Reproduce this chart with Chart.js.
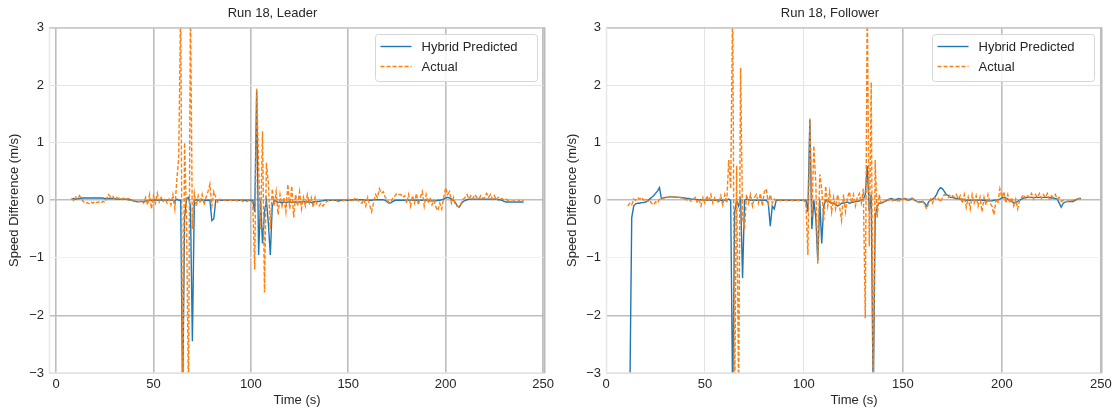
<!DOCTYPE html>
<html>
<head>
<meta charset="utf-8">
<script src="https://cdn.jsdelivr.net/npm/chart.js@4.4.0/dist/chart.umd.min.js"></script>
<style>
  body { margin: 0; background: #fff; width: 1117px; height: 412px; overflow: hidden; position: relative; }
  canvas { position: absolute; top: 0; }
  #leader { left: 0; }
  #follower { left: 558px; }
</style>
</head>
<body>
<canvas id="leader" width="558" height="412"></canvas>
<canvas id="follower" width="559" height="412"></canvas>
<script>
// --- Data (1 s samples) ---
const seriesNames = ['Hybrid Predicted', 'Actual'];
const xTicks = [0, 50, 100, 150, 200, 250];
const yTicks = [-3, -2, -1, 0, 1, 2, 3];

// Leader: t = 8 .. 240
const leaderStart = 8;
const leaderPredicted = [
  0.02, 0.03,
  0.02, 0.03, 0.03, 0.04, 0.04, 0.04, 0.04, 0.04, 0.04, 0.04,
  0.04, 0.04, 0.04, 0.04, 0.04, 0.03, 0.03, 0.03, 0.03, 0.03,
  0.03, 0.02, 0.02, 0.02, 0.02, 0.02, 0.02, 0.01, 0.01, 0.0,
  -0.01, -0.02, -0.02, -0.02, -0.02, -0.02, -0.01, -0.01, 0.0, 0.0,
  0.0, 0.01, 0.0, 0.0, 0.01, 0.0, 0.0, 0.0, 0.01, 0.0,
  0.0, -0.02, 0.02, 0.0, 0.0, -3.5, -0.3, 0.03, 0.05, -0.1,
  -2.45, 0.0, 0.01, 0.0, 0.0, 0.01, 0.0, 0.0, 0.0, 0.0,
  -0.35, -0.32, 0.0, 0.0, 0.0, 0.0, 0.0, 0.0, 0.0, 0.0,
  0.0, 0.0, 0.0, 0.0, 0.0, 0.0, 0.0, 0.0, 0.0, 0.0,
  0.0, 0.0, -0.2, 1.9, -0.95, 0.0, -0.75, -0.2, 0.0, -0.4,
  -0.95, -0.1, 0.0, -0.02, -0.04, -0.03, -0.05, -0.03, -0.04, -0.03,
  -0.03, -0.04, -0.03, -0.03, -0.04, -0.03, -0.03, -0.02, -0.03, -0.03,
  -0.03, -0.04, -0.03, -0.02, -0.02, -0.02, -0.01, -0.01, 0.0, 0.0,
  0.0, 0.0, 0.0, 0.0, 0.0, 0.0, 0.0, 0.0, 0.0, 0.0,
  0.0, 0.0, 0.01, 0.01, 0.01, 0.01, 0.01, 0.01, 0.01, 0.0,
  0.0, 0.0, 0.0, 0.01, 0.01, 0.01, 0.01, 0.01, 0.01, 0.0,
  -0.03, -0.05, -0.04, -0.02, 0.0, 0.0, 0.0, 0.0, 0.0, 0.0,
  0.0, 0.0, 0.0, 0.0, 0.0, 0.0, 0.0, 0.0, 0.0, 0.0,
  0.0, 0.0, -0.01, -0.01, -0.01, -0.01, 0.0, 0.0, 0.01, 0.02,
  0.04, 0.05, 0.04, 0.02, 0.0, -0.04, -0.1, -0.12, -0.06, -0.02,
  0.0, 0.01, 0.02, 0.02, 0.02, 0.02, 0.02, 0.02, 0.02, 0.02,
  0.02, 0.02, 0.02, 0.02, 0.02, 0.02, 0.02, 0.01, 0.01, 0.0,
  -0.02, -0.03, -0.03, -0.03, -0.03, -0.03, -0.03, -0.03, -0.03, -0.03,
  -0.03
];
const leaderActual = [
  0.03, 0.0,
  0.06, 0.02, 0.08, 0.03, -0.02, -0.05, -0.04, -0.06, -0.03, -0.05,
  -0.02, -0.04, -0.03, -0.05, -0.02, -0.03, 0.03, 0.1, 0.06, 0.08,
  0.02, 0.05, 0.03, 0.05, 0.02, 0.04, 0.02, 0.03, 0.02, 0.0,
  -0.02, -0.01, -0.03, -0.02, 0.0, -0.05, 0.05, -0.08, 0.1, -0.15,
  0.08, -0.05, 0.12, -0.03, 0.05, -0.02, 0.03, -0.05, 0.02, -0.08,
  0.1, -0.15, 0.35, 0.75, 3.5, -3.5, 1.0, -0.3, -3.5, 3.5,
  -0.5, 0.12, -0.1, 0.08, -0.05, 0.1, -0.08, 0.05, 0.15, 0.28,
  -0.1, 0.15, 0.05, -0.05, 0.02, 0.0, 0.01, 0.0, -0.01, 0.0,
  0.0, 0.01, 0.0, -0.01, 0.0, 0.0, -0.02, -0.01, -0.02, 0.0,
  0.0, -0.05, -1.2, 1.95, 0.6, -0.5, 1.2, -1.6, 0.65, 0.3,
  -0.5, 0.2, -0.1, 0.15, -0.25, 0.1, -0.1, 0.05, -0.2, 0.28,
  -0.15, 0.25, -0.3, 0.1, -0.1, 0.15, -0.15, 0.05, -0.1, 0.1,
  -0.05, 0.05, -0.12, 0.05, -0.08, -0.1, -0.05, -0.1, -0.05, -0.02,
  0.0, 0.02, 0.0, 0.01, -0.01, -0.02, -0.02, -0.01, 0.0, 0.0,
  0.02, 0.0, -0.02, 0.02, 0.05, 0.0, -0.03, -0.05, 0.02, -0.1,
  0.05, -0.08, -0.2, -0.05, 0.1, 0.05, 0.2, 0.12, 0.15, 0.05,
  0.02, -0.05, -0.02, 0.05, 0.08, 0.12, 0.1, 0.1, 0.05, 0.08,
  -0.05, 0.1, -0.1, 0.08, -0.05, 0.12, -0.08, 0.05, 0.15, -0.1,
  0.1, -0.05, 0.05, -0.08, 0.0, -0.12, -0.18, -0.05, -0.15, 0.05,
  0.22, 0.1, 0.15, -0.05, 0.05, -0.08, -0.1, -0.12, -0.05, 0.02,
  0.05, 0.1, 0.02, 0.08, 0.03, 0.1, 0.05, 0.02, 0.08, 0.03,
  0.05, 0.12, 0.05, 0.1, 0.02, 0.08, 0.0, 0.05, 0.02, 0.03,
  0.0, 0.02, 0.0, -0.01, -0.02, -0.01, -0.03, -0.02, 0.0, -0.02,
  0.0
];

// Follower: t = 11 .. 240
const followerStart = 11;
const followerPredicted = [
  null, -3.5, -0.3, -0.1, -0.06, -0.05, -0.05, -0.04, -0.04,
  -0.03, -0.01, 0.02, 0.05, 0.08, 0.12, 0.16, 0.22, 0.03, 0.04,
  0.05, 0.05, 0.06, 0.06, 0.06, 0.06, 0.05, 0.05, 0.05, 0.04,
  0.04, 0.03, 0.03, 0.02, 0.02, 0.02, 0.01, 0.01, 0.01, 0.0,
  0.0, 0.0, 0.01, 0.0, 0.0, 0.0, 0.0, 0.0, 0.0, 0.0,
  0.0, 0.0, 0.02, 0.0, -3.5, -0.2, 0.0, -0.1, 0.02, -1.35,
  0.0, 0.02, 0.01, 0.0, 0.0, 0.0, 0.0, 0.0, 0.0, 0.0,
  0.0, 0.0, -0.05, -0.45, -0.1, -0.15, 0.0, 0.0, 0.0, 0.0,
  0.0, 0.0, 0.0, 0.0, 0.0, 0.0, 0.0, 0.0, 0.0, 0.0,
  0.0, 0.0, -0.2, 1.4, -0.5, 0.0, -0.3, -1.05, 0.0, -0.75,
  -0.1, 0.0, -0.02, -0.03, -0.05, -0.05, -0.08, -0.1, -0.08, -0.05,
  -0.05, -0.04, -0.03, -0.05, -0.04, -0.03, -0.02, -0.02, -0.01, 0.0,
  0.02, 0.1, 0.6, -0.2, 0.1, -3.5, -0.3, -0.1, -0.05, -0.05,
  -0.03, -0.02, 0.0, 0.02, 0.03, 0.02, 0.0, 0.02, 0.03, 0.02,
  0.02, 0.03, 0.02, 0.0, 0.02, 0.03, 0.0, -0.02, -0.03, -0.03,
  -0.02, -0.05, -0.1, -0.03, 0.0, 0.02, 0.05, 0.1, 0.18, 0.22,
  0.2, 0.15, 0.1, 0.08, 0.05, 0.05, 0.04, 0.03, 0.03, 0.02,
  0.02, 0.01, 0.0, 0.0, 0.0, 0.0, 0.0, 0.0, 0.0, 0.0,
  0.0, 0.0, 0.0, -0.01, -0.01, -0.01, 0.0, 0.0, 0.01, 0.02,
  0.04, 0.05, 0.04, 0.02, 0.0, -0.02, -0.05, -0.04, -0.02, 0.0,
  0.02, 0.04, 0.05, 0.05, 0.05, 0.05, 0.05, 0.05, 0.05, 0.05,
  0.05, 0.05, 0.05, 0.05, 0.05, 0.04, 0.04, 0.03, 0.02, -0.05,
  -0.12, -0.05, -0.03, -0.02, -0.02, -0.02, -0.02, 0.0, 0.02, 0.03,
  0.03
];
const followerActual = [
  -0.1, -0.05, -0.08, 0.02, 0.0, 0.05, 0.02, 0.05, 0.0,
  0.03, -0.02, 0.0, -0.05, -0.08, -0.03, -0.05, 0.02, 0.05, 0.03,
  0.06, 0.05, 0.06, 0.05, 0.06, 0.05, 0.06, 0.05, 0.04, 0.03,
  0.02, 0.0, 0.02, -0.02, 0.0, 0.05, -0.03, 0.02, -0.1, 0.05,
  -0.05, 0.08, -0.02, 0.1, -0.05, 0.05, 0.0, -0.05, 0.08, -0.08,
  0.1, -0.05, 0.7, 0.2, 3.5, -3.5, 0.6, -3.5, 2.3, -0.3,
  -0.5, 0.1, -0.05, 0.1, -0.1, 0.05, 0.1, -0.05, 0.12, -0.1,
  0.15, 0.2, -0.05, 0.1, -0.05, 0.02, -0.02, 0.0, -0.01, 0.0,
  0.0, 0.0, -0.01, 0.0, 0.0, -0.01, 0.0, 0.0, -0.01, 0.0,
  0.0, -0.05, -0.95, 1.42, -0.3, 0.95, 0.3, -1.1, 0.45, 0.2,
  -0.35, 0.25, -0.1, 0.15, -0.2, 0.05, -0.15, 0.1, -0.1, -0.35,
  0.1, -0.2, 0.05, 0.15, -0.05, 0.1, -0.1, 0.05, 0.12, -0.05,
  0.2, -2.05, 3.5, -0.8, 2.05, -3.5, 0.7, -0.3, 0.1, -0.05,
  -0.05, 0.0, -0.03, 0.02, -0.02, 0.0, 0.02, -0.01, 0.0, -0.02,
  0.02, 0.03, 0.0, 0.02, 0.05, 0.03, 0.0, -0.02, -0.03, -0.05,
  -0.02, -0.08, -0.15, -0.05, 0.02, -0.05, 0.05, 0.0, 0.03, -0.03,
  0.05, 0.1, 0.08, 0.05, 0.1, 0.08, 0.05, 0.1, 0.02, 0.08,
  -0.05, 0.1, -0.12, 0.05, -0.15, 0.1, -0.05, 0.08, -0.1, 0.05,
  -0.2, 0.05, -0.08, 0.1, -0.05, -0.1, -0.25, 0.0, -0.05, 0.2,
  0.05, 0.15, -0.05, 0.1, -0.05, 0.05, -0.1, 0.02, -0.15, 0.0,
  0.05, 0.1, 0.03, 0.08, 0.05, 0.12, 0.02, 0.1, 0.05, 0.12,
  0.03, 0.1, 0.05, 0.12, 0.02, 0.08, 0.05, 0.1, 0.02, 0.05,
  -0.02, 0.0, -0.03, -0.02, 0.0, -0.01, 0.0, 0.01, 0.02, 0.03,
  0.03
];

// --- Estilo ---
const TEXT = '#262626';
const BLUE = '#1f77b4';
const ORANGE = '#ff7f0e';
Chart.defaults.font.family = "'Liberation Sans', Arial, sans-serif";
Chart.defaults.font.size = 13;
Chart.defaults.color = TEXT;

const minus = v => String(v).replace('-', '\u2212');

// borde del área del gráfico (spines)
const framePlugin = {
  id: 'frame',
  afterDatasetsDraw(chart) {
    const { ctx, chartArea: a } = chart;
    ctx.save();
    const line = (x1, y1, x2, y2, color, w) => {
      ctx.strokeStyle = color; ctx.lineWidth = w;
      ctx.beginPath(); ctx.moveTo(x1, y1); ctx.lineTo(x2, y2); ctx.stroke();
    };
    line(a.left, a.top + 0.5, a.right, a.top + 0.5, '#c4c4c4', 1.5);
    line(a.left, a.bottom, a.right, a.bottom, '#e2e2e2', 1.5);
    line(a.left + 0.5, a.top, a.left + 0.5, a.bottom, '#e8e8e8', 1.5);
    line(a.right - 0.5, a.top, a.right - 0.5, a.bottom, '#bcbcbc', 2);
    ctx.restore();
  }
};

// leyenda con marco, estilo matplotlib
const legendPlugin = {
  id: 'boxLegend',
  afterDraw(chart) {
    const { ctx, chartArea: a } = chart;
    const w = 162, h = 47;
    const x = Math.round(a.right - 8 - w) + 0.5, y = Math.round(a.top + 6) + 0.5;
    ctx.save();
    ctx.fillStyle = 'rgba(255,255,255,0.85)';
    ctx.strokeStyle = '#d6d6d6';
    ctx.lineWidth = 1;
    ctx.beginPath();
    ctx.roundRect(x, y, w, h, 3);
    ctx.fill();
    ctx.stroke();
    chart.data.datasets.forEach((ds, i) => {
      const rowY = y + 12 + i * 20;
      ctx.strokeStyle = ds.borderColor;
      ctx.lineWidth = 1.4;
      ctx.setLineDash(ds.borderDash || []);
      ctx.beginPath(); ctx.moveTo(x + 5, rowY); ctx.lineTo(x + 36, rowY); ctx.stroke();
      ctx.setLineDash([]);
      ctx.fillStyle = TEXT;
      ctx.font = "13px 'Liberation Sans', Arial, sans-serif";
      ctx.textBaseline = 'middle';
      ctx.fillText(ds.label, x + 46, rowY + 1);
    });
    ctx.restore();
  }
};

function makeChart(id, title, start, predicted, actual, xMin, xMax, yWidth, padRight, darkX) {
  const toPoints = arr => arr.map((v, i) => ({ x: start + i, y: v }));
  const darkY = [0, -2];
  return new Chart(document.getElementById(id), {
    type: 'line',
    data: {
      datasets: [
        {
          label: seriesNames[0], data: toPoints(predicted),
          borderColor: BLUE, borderWidth: 1.4, pointRadius: 0, order: 1
        },
        {
          label: seriesNames[1], data: toPoints(actual),
          borderColor: ORANGE, borderWidth: 1.4, borderDash: [4, 2], pointRadius: 0, order: 0
        }
      ]
    },
    options: {
      responsive: false,
      animation: false,
      layout: { padding: { left: 0, right: padRight, top: 0, bottom: 0 } },
      scales: {
        x: {
          type: 'linear', min: xMin, max: xMax,
          afterBuildTicks: s => { s.ticks = xTicks.map(v => ({ value: v })); },
          afterFit: s => { s.height = 39; },
          ticks: { padding: 4, maxRotation: 0, callback: v => minus(v) },
          grid: {
            drawTicks: false,
            color: c => darkX.includes(c.tick.value) ? '#bdbdbd' : '#e4e4e4',
            lineWidth: c => darkX.includes(c.tick.value) ? 1.6 : 1
          },
          border: { display: false },
          title: { display: true, text: 'Time (s)', padding: { top: 0, bottom: 4 } }
        },
        y: {
          min: -3, max: 3,
          afterBuildTicks: s => { s.ticks = yTicks.map(v => ({ value: v })); },
          afterFit: s => { s.width = yWidth; },
          ticks: { padding: 5, callback: v => minus(v) },
          grid: {
            drawTicks: false,
            color: c => darkY.includes(c.tick.value) ? '#bdbdbd' : (c.tick.value === -1 ? '#f2f2f2' : '#e4e4e4'),
            lineWidth: c => darkY.includes(c.tick.value) ? 1.6 : 1
          },
          border: { display: false },
          title: { display: true, text: 'Speed Difference (m/s)', padding: { top: 7, bottom: 0 } }
        }
      },
      plugins: {
        legend: { display: false },
        tooltip: { enabled: false },
        title: {
          display: true, text: title, color: TEXT,
          font: { size: 13, weight: 'normal' },
          padding: { top: 6, bottom: 6 }
        }
      }
    },
    plugins: [framePlugin, legendPlugin]
  });
}

makeChart('leader', 'Run 18, Leader', leaderStart, leaderPredicted, leaderActual,
  -3.6, 251, 49, 13, [0, 50, 100, 150, 200, 250]);
makeChart('follower', 'Run 18, Follower', followerStart, followerPredicted, followerActual,
  0, 250.6, 48, 15, [150, 200, 250]);
</script>
</body>
</html>
